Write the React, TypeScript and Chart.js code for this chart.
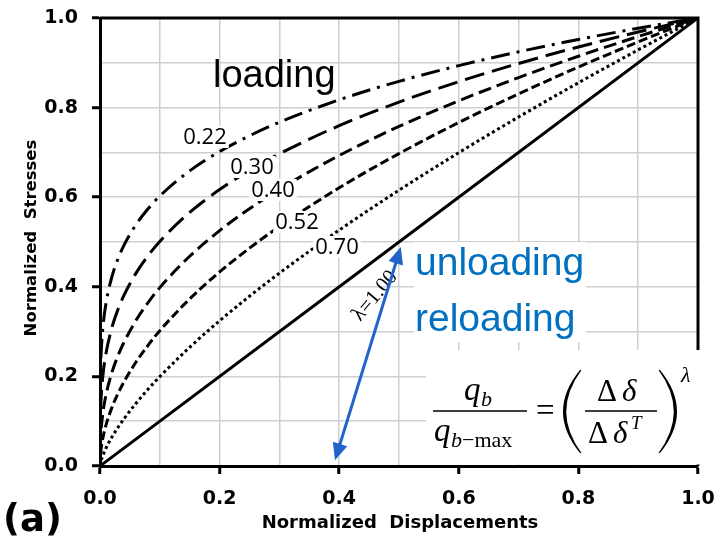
import React, { useEffect, useRef } from 'react';
import { Chart, registerables } from 'chart.js';

Chart.register(...registerables);

// Normalized displacement sample positions
const xs = [0, 0.0001, 0.0005, 0.001, 0.002, 0.005, 0.01, 0.02, 0.03, 0.04, 0.06, 0.08, 0.1, 0.15, 0.2, 0.25, 0.3, 0.4, 0.5, 0.6, 0.7, 0.8, 0.9, 1.0];
// Normalized stresses for each lambda
const y022 = [0, 0.1318, 0.1878, 0.2188, 0.2548, 0.3117, 0.3631, 0.4229, 0.4623, 0.4925, 0.5385, 0.5737, 0.6026, 0.6588, 0.7018, 0.7371, 0.7673, 0.8174, 0.8586, 0.8937, 0.9245, 0.9521, 0.9771, 1];
const y030 = [0, 0.0631, 0.1023, 0.1259, 0.1550, 0.2040, 0.2512, 0.3092, 0.3492, 0.3807, 0.4300, 0.4688, 0.5012, 0.5660, 0.6170, 0.6598, 0.6968, 0.7597, 0.8123, 0.8579, 0.8985, 0.9353, 0.9689, 1];
const y040 = [0, 0.0251, 0.0478, 0.0631, 0.0833, 0.1201, 0.1585, 0.2091, 0.2460, 0.2759, 0.3245, 0.3641, 0.3981, 0.4682, 0.5253, 0.5743, 0.6178, 0.6931, 0.7579, 0.8152, 0.8670, 0.9146, 0.9587, 1];
const y052 = [0, 0.0083, 0.0192, 0.0275, 0.0395, 0.0636, 0.0912, 0.1308, 0.1615, 0.1875, 0.2315, 0.2689, 0.3020, 0.3729, 0.4331, 0.4863, 0.5347, 0.6210, 0.6974, 0.7667, 0.8307, 0.8905, 0.9467, 1];
const y070 = [0, 0.0016, 0.0049, 0.0079, 0.0129, 0.0245, 0.0398, 0.0647, 0.0859, 0.1051, 0.1395, 0.1707, 0.1995, 0.2650, 0.3241, 0.3789, 0.4305, 0.5266, 0.6156, 0.6994, 0.7791, 0.8554, 0.9289, 1];
const xLinear = [0, 1];
const y100 = [0, 1];

const lambdaLabels = ['0.22', '0.30', '0.40', '0.52', '0.70'];
const lambdaOneLabel = 'λ=1.00';
const xTitle = 'Normalized  Displacements';
const yTitle = 'Normalized  Stresses';
const panelLabel = '(a)';
const loadingText = 'loading';
const unloadingText = ['unloading', 'reloading'];
// arrow end points in data units [x, y]
const arrowFrom = [0.393, 0.013];
const arrowTo = [0.503, 0.489];

const zip = (x: number[], y: number[]) => x.map((v, i) => ({ x: v, y: y[i] }));

const overlay = {
  id: 'overlay',
  beforeDatasetsDraw(chart: any) {
    const { ctx, chartArea: a } = chart;
    ctx.save();
    ctx.strokeStyle = '#000';
    ctx.lineWidth = 3;
    ctx.beginPath();
    ctx.moveTo(a.left, a.top);
    ctx.lineTo(a.right, a.top);
    ctx.lineTo(a.right, a.bottom);
    ctx.stroke();
    ctx.restore();
  },
  afterDatasetsDraw(chart: any) {
    const { ctx } = chart;
    const sx = chart.scales.x;
    const sy = chart.scales.y;
    ctx.save();

    // curve labels with white boxes
    const labelPos = [[205, 137], [252, 167], [273, 190], [297, 222], [337, 247]];
    ctx.font = '22px "Open Sans"';
    ctx.textAlign = 'center';
    ctx.textBaseline = 'middle';
    lambdaLabels.forEach((t, i) => {
      const [cx, cy] = labelPos[i];
      const w = ctx.measureText(t).width + 4;
      ctx.fillStyle = '#fff';
      ctx.fillRect(cx - w / 2, cy - 11, w, 22);
      ctx.fillStyle = '#000';
      ctx.fillText(t, cx, cy + 1);
    });

    // loading
    ctx.textAlign = 'left';
    ctx.textBaseline = 'alphabetic';
    ctx.font = '38px "Liberation Sans"';
    ctx.fillStyle = '#000';
    ctx.fillText(loadingText, 213, 87);

    // unloading / reloading
    ctx.fillStyle = '#fff';
    ctx.fillRect(414, 242, 172, 100);
    ctx.fillStyle = '#0070C0';
    ctx.font = '39px "Liberation Sans"';
    ctx.fillText(unloadingText[0], 415, 275);
    ctx.fillText(unloadingText[1], 415, 331);

    // lambda = 1.00 label
    ctx.save();
    ctx.translate(375, 296);
    ctx.rotate((-50 * Math.PI) / 180);
    ctx.font = '21px "Liberation Serif"';
    ctx.fillStyle = '#000';
    ctx.textAlign = 'center';
    ctx.textBaseline = 'middle';
    ctx.fillText(lambdaOneLabel, 0, 0);
    ctx.restore();

    // double-headed arrow
    const x1 = sx.getPixelForValue(arrowFrom[0]);
    const y1 = sy.getPixelForValue(arrowFrom[1]);
    const x2 = sx.getPixelForValue(arrowTo[0]);
    const y2 = sy.getPixelForValue(arrowTo[1]);
    const ang = Math.atan2(y2 - y1, x2 - x1);
    const hl = 17, hw = 7.5;
    const col = '#2262CC';
    ctx.strokeStyle = col;
    ctx.fillStyle = col;
    ctx.lineWidth = 3;
    ctx.beginPath();
    ctx.moveTo(x1 + Math.cos(ang) * (hl - 2), y1 + Math.sin(ang) * (hl - 2));
    ctx.lineTo(x2 - Math.cos(ang) * (hl - 2), y2 - Math.sin(ang) * (hl - 2));
    ctx.stroke();
    const head = (tx: number, ty: number, a: number) => {
      const bx = tx - Math.cos(a) * hl;
      const by = ty - Math.sin(a) * hl;
      ctx.beginPath();
      ctx.moveTo(tx, ty);
      ctx.lineTo(bx + Math.sin(a) * hw, by - Math.cos(a) * hw);
      ctx.lineTo(bx - Math.sin(a) * hw, by + Math.cos(a) * hw);
      ctx.closePath();
      ctx.fill();
    };
    head(x2, y2, ang);
    head(x1, y1, ang + Math.PI);

    // formula box
    ctx.fillStyle = '#fff';
    ctx.fillRect(426, 350, 276, 114.5);
    ctx.fillStyle = '#000';
    ctx.strokeStyle = '#000';
    ctx.textBaseline = 'alphabetic';
    ctx.textAlign = 'left';
    // q_b
    ctx.font = 'italic 33px "Liberation Serif"';
    ctx.fillText('q', 464, 400);
    ctx.font = 'italic 22px "Liberation Serif"';
    ctx.fillText('b', 481, 406);
    // bar 1
    ctx.lineWidth = 1.6;
    ctx.beginPath();
    ctx.moveTo(433, 411);
    ctx.lineTo(527, 411);
    ctx.stroke();
    // q_{b-max}
    ctx.font = 'italic 33px "Liberation Serif"';
    ctx.fillText('q', 434, 441);
    ctx.font = 'italic 22px "Liberation Serif"';
    ctx.fillText('b', 451, 447);
    ctx.font = '22px "Liberation Serif"';
    ctx.fillText('\u2212max', 462, 447);
    // =
    ctx.font = '33px "Liberation Serif"';
    ctx.fillText('=', 536, 421);
    // parentheses
    ctx.beginPath();
    ctx.moveTo(580, 370);
    ctx.quadraticCurveTo(546, 411.5, 580, 453);
    ctx.lineTo(581.5, 453);
    ctx.quadraticCurveTo(551, 411.5, 581.5, 370);
    ctx.closePath();
    ctx.fill();
    ctx.beginPath();
    ctx.moveTo(660, 370);
    ctx.quadraticCurveTo(694, 411.5, 660, 453);
    ctx.lineTo(658.5, 453);
    ctx.quadraticCurveTo(689, 411.5, 658.5, 370);
    ctx.closePath();
    ctx.fill();
    // Δδ
    ctx.font = '31px "Liberation Serif"';
    ctx.fillText('\u0394', 597, 401);
    ctx.font = 'italic 31px "Liberation Serif"';
    ctx.fillText('\u03b4', 622, 401);
    // bar 2
    ctx.beginPath();
    ctx.moveTo(585, 411);
    ctx.lineTo(657, 411);
    ctx.stroke();
    // Δδ^T
    ctx.font = '31px "Liberation Serif"';
    ctx.fillText('\u0394', 588, 443);
    ctx.font = 'italic 31px "Liberation Serif"';
    ctx.fillText('\u03b4', 613, 443);
    ctx.font = 'italic 19px "Liberation Serif"';
    ctx.fillText('T', 631, 429);
    // lambda superscript
    ctx.font = 'italic 22px "Liberation Serif"';
    ctx.fillText('\u03bb', 681, 382);

    ctx.restore();
  },
  afterDraw(chart: any) {
    const { ctx } = chart;
    ctx.save();
    ctx.fillStyle = '#000';
    ctx.font = 'bold 18px "DejaVu Sans"';
    ctx.textAlign = 'center';
    ctx.textBaseline = 'middle';
    ctx.fillText(xTitle, 400, 523);
    ctx.save();
    ctx.translate(32, 238);
    ctx.rotate(-Math.PI / 2);
    ctx.font = 'bold 16.5px "DejaVu Sans"';
    ctx.fillText(yTitle, 0, 0);
    ctx.restore();
    ctx.textAlign = 'left';
    ctx.textBaseline = 'alphabetic';
    ctx.font = 'bold 37px "DejaVu Sans"';
    ctx.fillText(panelLabel, 3, 531);
    ctx.restore();
  },
};

const axisCommon = (isX: boolean) => ({
  type: 'linear' as const,
  min: 0,
  max: 1,
  grid: {
    color: (c: any) => (c.index === 0 ? 'rgba(0,0,0,0)' : '#cfcfcf'),
    lineWidth: 1.5,
    tickColor: (c: any) => (c.index % 2 === 0 ? '#000' : 'rgba(0,0,0,0)'),
    tickWidth: 3,
    tickLength: 8,
    drawTicks: true,
  },
  border: { display: true, color: '#000', width: 3 },
  ticks: {
    stepSize: 0.1,
    autoSkip: false,
    maxRotation: 0,
    padding: 14,
    color: '#000',
    font: { family: '"DejaVu Sans"', size: 19, weight: 'bold' as const },
    callback: (v: any, i: number) => (i % 2 === 0 ? Number(v).toFixed(1) : ''),
  },
  afterFit: (s: any) => {
    if (isX) s.height = 72;
    else s.width = 100;
    s.paddingLeft = 0;
    s.paddingRight = 0;
    s.paddingTop = 0;
    s.paddingBottom = 0;
  },
});

export default function App() {
  const ref = useRef<HTMLCanvasElement | null>(null);
  useEffect(() => {
    if (!ref.current) return;
    const common = { pointRadius: 0, borderColor: '#000', borderWidth: 3, fill: false, cubicInterpolationMode: 'monotone' as const, borderCapStyle: 'butt' as const };
    const chart = new Chart(ref.current, {
      type: 'line',
      data: {
        datasets: [
          { ...common, label: lambdaLabels[0], data: zip(xs, y022), borderDash: [19, 7, 3, 7] },
          { ...common, label: lambdaLabels[1], data: zip(xs, y030), borderDash: [20, 8] },
          { ...common, label: lambdaLabels[2], data: zip(xs, y040), borderDash: [13, 6] },
          { ...common, label: lambdaLabels[3], data: zip(xs, y052), borderDash: [9, 4] },
          { ...common, label: lambdaLabels[4], data: zip(xs, y070), borderDash: [3, 3] },
          { ...common, label: lambdaOneLabel, data: zip(xLinear, y100) },
        ],
      },
      options: {
        animation: false,
        responsive: false,
        devicePixelRatio: 1,
        layout: { padding: { left: 0, top: 18, right: 19, bottom: 0 } },
        plugins: { legend: { display: false }, tooltip: { enabled: false } },
        scales: {
          x: axisCommon(true) as any,
          y: axisCommon(false) as any,
        },
      },
      plugins: [overlay],
    });
    return () => chart.destroy();
  }, []);
  return (
    <div style={{ position: 'absolute', left: 0, top: 0, width: 717, height: 538, background: '#fff' }}>
      <canvas ref={ref} width={717} height={538} style={{ width: 717, height: 538 }} />
    </div>
  );
}
